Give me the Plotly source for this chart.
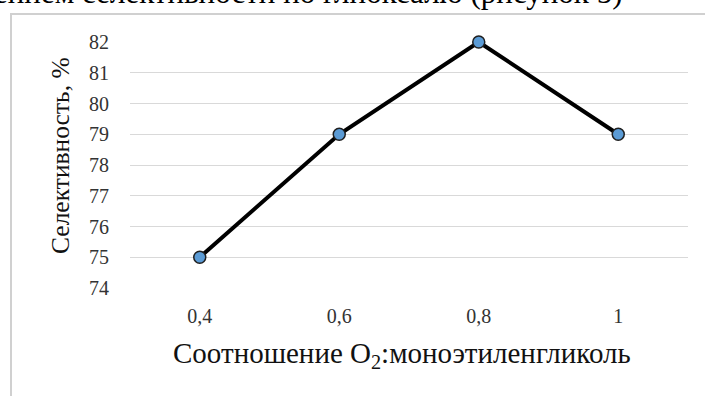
import plotly.graph_objects as go

# Ratio O2 : monoethylene glycol vs. selectivity to glyoxal
ratio_labels = ["0,4", "0,6", "0,8", "1"]
selectivity = [75, 79, 82, 79]
y_ticks = [74, 75, 76, 77, 78, 79, 80, 81, 82]

W, H = 705, 396
ML, MR, MT, MB = 130, 17, 42, 108
PW, PH = W - ML - MR, H - MT - MB


def px_x(p):
    return (p - ML) / PW


def px_y(p):
    return (H - MB - p) / PH


SERIF = "Liberation Serif"

fig = go.Figure()
fig.add_trace(go.Scatter(
    x=ratio_labels,
    y=selectivity,
    mode="lines+markers",
    line=dict(color="#000000", width=4),
    marker=dict(size=12, color="#5B9BD5", line=dict(color="#1f1f1f", width=1.5)),
    showlegend=False,
    cliponaxis=False,
))

fig.update_layout(
    width=W, height=H,
    margin=dict(l=ML, r=MR, t=MT, b=MB),
    paper_bgcolor="white",
    plot_bgcolor="white",
    font=dict(family=SERIF, color="#333333", size=20),
    xaxis=dict(
        type="category", range=[-0.5, len(ratio_labels) - 0.5],
        showgrid=False, zeroline=False, showline=False,
        ticks="", ticklabelstandoff=14,
        tickfont=dict(family=SERIF, size=20, color="#333333"),
    ),
    yaxis=dict(
        range=[74, 82], tickvals=y_ticks,
        showgrid=True, gridcolor="#d9d9d9", gridwidth=1,
        zeroline=False, showline=False,
        ticks="", ticklabelstandoff=20,
        tickfont=dict(family=SERIF, size=20, color="#333333"),
    ),
    shapes=[
        # chart frame (left and top edges visible)
        dict(type="rect", xref="paper", yref="paper",
             x0=px_x(11), x1=px_x(760), y0=px_y(460), y1=px_y(14),
             line=dict(color="#d0d0d0", width=2), fillcolor="rgba(0,0,0,0)",
             layer="below"),
    ],
    annotations=[
        dict(text="Соотношение O<sub>2</sub>:моноэтиленгликоль",
             xref="paper", yref="paper", x=px_x(402), y=px_y(355),
             xanchor="center", yanchor="middle", showarrow=False,
             font=dict(family=SERIF, size=29, color="#111111")),
        dict(text="Селективность, %",
             xref="paper", yref="paper", x=px_x(60), y=px_y(156),
             xanchor="center", yanchor="middle", showarrow=False, textangle=-90,
             font=dict(family=SERIF, size=25.5, color="#111111")),
        dict(text="ением селективности по глиоксалю (рисунок 5)",
             xref="paper", yref="paper", x=px_x(-8), y=px_y(12),
             xanchor="left", yanchor="bottom", showarrow=False,
             font=dict(family=SERIF, size=31, color="#000000")),
    ],
)

fig.write_html("out.html")
